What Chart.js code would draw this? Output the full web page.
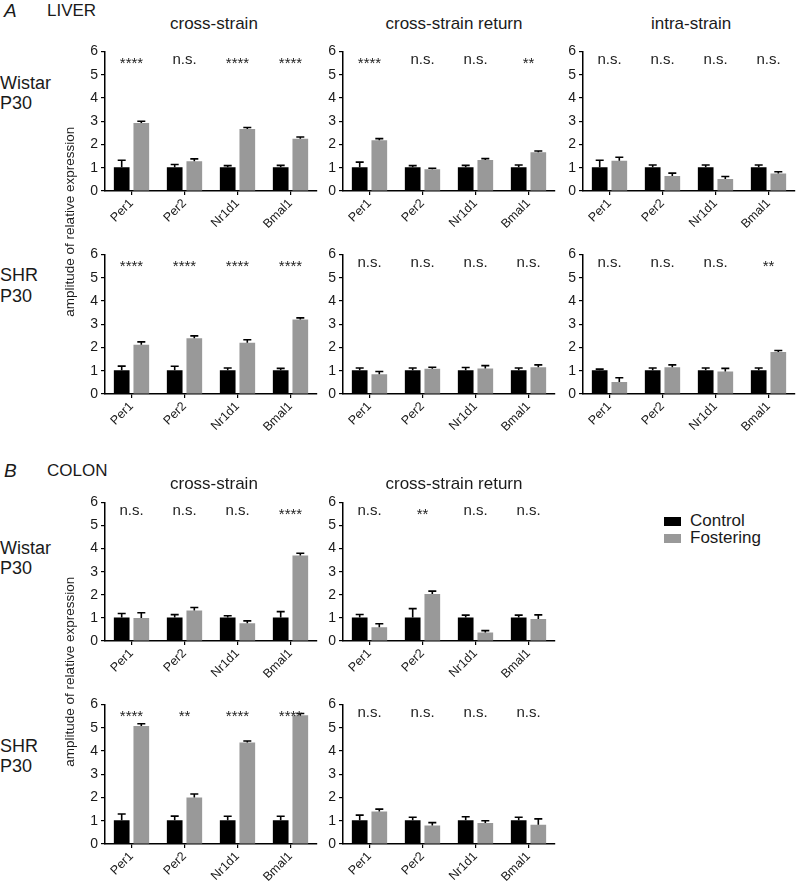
<!DOCTYPE html>
<html>
<head>
<meta charset="utf-8">
<script src="https://cdn.jsdelivr.net/npm/chart.js@4.4.1/dist/chart.umd.min.js"></script>
<style>
  body { margin: 0; background: #fff; font-family: 'Liberation Sans', Arial, sans-serif; }
  #wrap { position: relative; width: 797px; height: 882px; overflow: hidden; }
  canvas { position: absolute; }
  .t { position: absolute; white-space: nowrap; color: #1a1a1a; line-height: 1; }
</style>
</head>
<body>
<div id="wrap"></div>
<script>
'use strict';

const genes = ['Per1', 'Per2', 'Nr1d1', 'Bmal1'];
const seriesNames = ['Control', 'Fostering'];

// liver, Wistar P30
const lwCrossCtrl = [1.02, 1.02, 1.02, 1.02];
const lwCrossCtrlErr = [0.30, 0.12, 0.07, 0.08];
const lwCrossFost = [2.92, 1.28, 2.66, 2.25];
const lwCrossFostErr = [0.08, 0.10, 0.07, 0.07];
const lwCrossSig = ['****', 'n.s.', '****', '****'];

const lwReturnCtrl = [1.02, 1.02, 1.02, 1.02];
const lwReturnCtrlErr = [0.22, 0.07, 0.08, 0.10];
const lwReturnFost = [2.18, 0.93, 1.33, 1.67];
const lwReturnFostErr = [0.07, 0.05, 0.06, 0.05];
const lwReturnSig = ['****', 'n.s.', 'n.s.', '**'];

const lwIntraCtrl = [1.02, 1.02, 1.02, 1.02];
const lwIntraCtrlErr = [0.30, 0.10, 0.10, 0.10];
const lwIntraFost = [1.30, 0.65, 0.52, 0.75];
const lwIntraFostErr = [0.15, 0.12, 0.10, 0.08];
const lwIntraSig = ['n.s.', 'n.s.', 'n.s.', 'n.s.'];

// liver, SHR P30
const lsCrossCtrl = [1.02, 1.02, 1.02, 1.02];
const lsCrossCtrlErr = [0.18, 0.17, 0.10, 0.08];
const lsCrossFost = [2.12, 2.40, 2.20, 3.20];
const lsCrossFostErr = [0.12, 0.10, 0.13, 0.07];
const lsCrossSig = ['****', '****', '****', '****'];

const lsReturnCtrl = [1.02, 1.02, 1.02, 1.02];
const lsReturnCtrlErr = [0.10, 0.10, 0.12, 0.10];
const lsReturnFost = [0.85, 1.08, 1.10, 1.15];
const lsReturnFostErr = [0.12, 0.07, 0.12, 0.10];
const lsReturnSig = ['n.s.', 'n.s.', 'n.s.', 'n.s.'];

const lsIntraCtrl = [1.02, 1.02, 1.02, 1.02];
const lsIntraCtrlErr = [0.05, 0.10, 0.10, 0.10];
const lsIntraFost = [0.52, 1.15, 0.97, 1.80];
const lsIntraFostErr = [0.18, 0.10, 0.13, 0.07];
const lsIntraSig = ['n.s.', 'n.s.', 'n.s.', '**'];

// colon, Wistar P30
const cwCrossCtrl = [1.02, 1.02, 1.02, 1.02];
const cwCrossCtrlErr = [0.17, 0.12, 0.07, 0.25];
const cwCrossFost = [1.00, 1.32, 0.77, 3.70];
const cwCrossFostErr = [0.22, 0.13, 0.10, 0.10];
const cwCrossSig = ['n.s.', 'n.s.', 'n.s.', '****'];

const cwReturnCtrl = [1.02, 1.02, 1.02, 1.02];
const cwReturnCtrlErr = [0.13, 0.38, 0.10, 0.10];
const cwReturnFost = [0.60, 2.03, 0.37, 0.95];
const cwReturnFostErr = [0.15, 0.13, 0.08, 0.18];
const cwReturnSig = ['n.s.', '**', 'n.s.', 'n.s.'];

// colon, SHR P30
const csCrossCtrl = [1.02, 1.02, 1.02, 1.02];
const csCrossCtrlErr = [0.27, 0.18, 0.17, 0.17];
const csCrossFost = [5.07, 2.00, 4.36, 5.53];
const csCrossFostErr = [0.10, 0.15, 0.07, 0.08];
const csCrossSig = ['****', '**', '****', '****'];

const csReturnCtrl = [1.02, 1.02, 1.02, 1.02];
const csReturnCtrlErr = [0.22, 0.13, 0.15, 0.13];
const csReturnFost = [1.40, 0.80, 0.90, 0.83];
const csReturnFostErr = [0.10, 0.12, 0.10, 0.25];
const csReturnSig = ['n.s.', 'n.s.', 'n.s.', 'n.s.'];

const yTicks = [0, 1, 2, 3, 4, 5, 6];

// layout: left of axis (x), pixel row of 6 and of 0
const colX = [105, 343, 583];
const rows = { lw: [50, 191], ls: [253, 394], cw: [501, 641], cs: [703, 844] };

const panels = [
  { col: 0, row: 'lw', c: lwCrossCtrl, ce: lwCrossCtrlErr, f: lwCrossFost, fe: lwCrossFostErr, sig: lwCrossSig },
  { col: 1, row: 'lw', c: lwReturnCtrl, ce: lwReturnCtrlErr, f: lwReturnFost, fe: lwReturnFostErr, sig: lwReturnSig },
  { col: 2, row: 'lw', c: lwIntraCtrl, ce: lwIntraCtrlErr, f: lwIntraFost, fe: lwIntraFostErr, sig: lwIntraSig },
  { col: 0, row: 'ls', c: lsCrossCtrl, ce: lsCrossCtrlErr, f: lsCrossFost, fe: lsCrossFostErr, sig: lsCrossSig },
  { col: 1, row: 'ls', c: lsReturnCtrl, ce: lsReturnCtrlErr, f: lsReturnFost, fe: lsReturnFostErr, sig: lsReturnSig },
  { col: 2, row: 'ls', c: lsIntraCtrl, ce: lsIntraCtrlErr, f: lsIntraFost, fe: lsIntraFostErr, sig: lsIntraSig },
  { col: 0, row: 'cw', c: cwCrossCtrl, ce: cwCrossCtrlErr, f: cwCrossFost, fe: cwCrossFostErr, sig: cwCrossSig },
  { col: 1, row: 'cw', c: cwReturnCtrl, ce: cwReturnCtrlErr, f: cwReturnFost, fe: cwReturnFostErr, sig: cwReturnSig },
  { col: 0, row: 'cs', c: csCrossCtrl, ce: csCrossCtrlErr, f: csCrossFost, fe: csCrossFostErr, sig: csCrossSig },
  { col: 1, row: 'cs', c: csReturnCtrl, ce: csReturnCtrlErr, f: csReturnFost, fe: csReturnFostErr, sig: csReturnSig }
];

const wrap = document.getElementById('wrap');
const FONT = "'Liberation Sans', Arial, sans-serif";
const CTRL_COL = '#000000';
const FOST_COL = '#999999';

const addText = function (txt, x, y, size, opts) {
  const d = document.createElement('div');
  d.className = 't';
  d.textContent = txt;
  d.style.left = x + 'px';
  d.style.top = y + 'px';
  d.style.fontSize = size + 'px';
  if (opts) Object.assign(d.style, opts);
  wrap.appendChild(d);
  return d;
};

// error bars (upper only) + significance marks
const extras = {
  id: 'extras',
  afterDatasetsDraw(chart, args, opts) {
    const ctx = chart.ctx;
    const y = chart.scales.y;
    const x = chart.scales.x;
    ctx.save();
    chart.data.datasets.forEach((ds, i) => {
      chart.getDatasetMeta(i).data.forEach((bar, j) => {
        const top = y.getPixelForValue(ds.data[j] + ds.errs[j]);
        ctx.strokeStyle = '#000';
        ctx.lineWidth = 1.6;
        ctx.beginPath();
        ctx.moveTo(bar.x, bar.y);
        ctx.lineTo(bar.x, top);
        ctx.moveTo(bar.x - 4, top);
        ctx.lineTo(bar.x + 4, top);
        ctx.stroke();
      });
    });
    ctx.fillStyle = '#222';
    ctx.textAlign = 'center';
    ctx.textBaseline = 'middle';
    opts.sig.forEach((s, j) => {
      const px = x.getPixelForValue(j);
      const py = y.getPixelForValue(5.62);
      if (s === 'n.s.') {
        ctx.font = '15px ' + FONT;
        ctx.fillText(s, px, py);
      } else {
        ctx.font = '15px ' + FONT;
        ctx.fillText(s, px, py + 4);
      }
    });
    ctx.restore();
  }
};

const makePanel = function (p) {
  const ax = colX[p.col];
  const [y6, y0] = rows[p.row];
  const padTop = 10;
  const yW = 30;
  const xH = 48;
  const plotW = 212;
  const cv = document.createElement('canvas');
  const w = yW + plotW + 2;
  const h = padTop + (y0 - y6) + xH;
  cv.width = w;
  cv.height = h;
  cv.style.left = (ax - yW) + 'px';
  cv.style.top = (y6 - padTop) + 'px';
  wrap.appendChild(cv);

  new Chart(cv.getContext('2d'), {
    type: 'bar',
    data: {
      labels: genes,
      datasets: [
        { label: seriesNames[0], data: p.c, errs: p.ce, backgroundColor: CTRL_COL,
          categoryPercentage: 0.74, barPercentage: 0.8 },
        { label: seriesNames[1], data: p.f, errs: p.fe, backgroundColor: FOST_COL,
          categoryPercentage: 0.74, barPercentage: 0.8 }
      ]
    },
    options: {
      responsive: false,
      animation: false,
      events: [],
      layout: { padding: { top: padTop, right: 2, left: 0, bottom: 0 } },
      plugins: {
        legend: { display: false },
        tooltip: { enabled: false },
        extras: { sig: p.sig }
      },
      scales: {
        x: {
          grid: { display: true, drawOnChartArea: false, offset: false, color: '#000', tickLength: 4, lineWidth: 1.2 },
          border: { color: '#000', width: 1.5 },
          ticks: { color: '#1a1a1a', font: { family: FONT, size: 12.5 }, minRotation: 45, maxRotation: 45, padding: 1 },
          afterFit(s) { s.height = xH; }
        },
        y: {
          min: 0,
          max: 6,
          afterBuildTicks(s) { s.ticks = yTicks.map(v => ({ value: v })); },
          grid: { display: true, drawOnChartArea: false, color: '#000', tickLength: 4, lineWidth: 1.2 },
          border: { color: '#000', width: 1.5 },
          ticks: { color: '#1a1a1a', font: { family: FONT, size: 14 }, padding: 3 },
          afterFit(s) { s.width = yW; }
        }
      }
    },
    plugins: [extras]
  });
};

panels.forEach(makePanel);

// headings and labels
addText('A', 4, 1, 19, { fontStyle: 'italic' });
addText('LIVER', 47, 2, 17);
addText('B', 4, 461, 19, { fontStyle: 'italic' });
addText('COLON', 47, 462, 17);

const colTitle = function (txt, cx, top) {
  const d = addText(txt, 0, top, 17);
  d.style.left = (cx - d.offsetWidth / 2) + 'px';
};
colTitle('cross-strain', 214, 15);
colTitle('cross-strain return', 454, 15);
colTitle('intra-strain', 691, 15);
colTitle('cross-strain', 214, 475);
colTitle('cross-strain return', 454, 475);

addText('Wistar', 0, 74, 18);
addText('P30', 0, 94, 18);
addText('SHR', 0, 266, 18);
addText('P30', 0, 287, 18);
addText('Wistar', 0, 539, 18);
addText('P30', 0, 559, 18);
addText('SHR', 0, 737, 18);
addText('P30', 0, 757, 18);

const yTitle = function (cy) {
  const d = addText('amplitude of relative expression', 0, 0, 13.5);
  const w = d.offsetWidth, hh = d.offsetHeight;
  d.style.left = (70 - w / 2) + 'px';
  d.style.top = (cy - hh / 2) + 'px';
  d.style.transform = 'rotate(-90deg)';
};
yTitle(222);
yTitle(672);

// legend
const legendBox = function (col, y) {
  const b = document.createElement('div');
  b.style.position = 'absolute';
  b.style.left = '664px';
  b.style.top = y + 'px';
  b.style.width = '17px';
  b.style.height = '9px';
  b.style.background = col;
  wrap.appendChild(b);
};
legendBox(CTRL_COL, 517);
legendBox(FOST_COL, 534);
addText(seriesNames[0], 690, 512, 17);
addText(seriesNames[1], 690, 529, 17);
</script>
</body>
</html>
